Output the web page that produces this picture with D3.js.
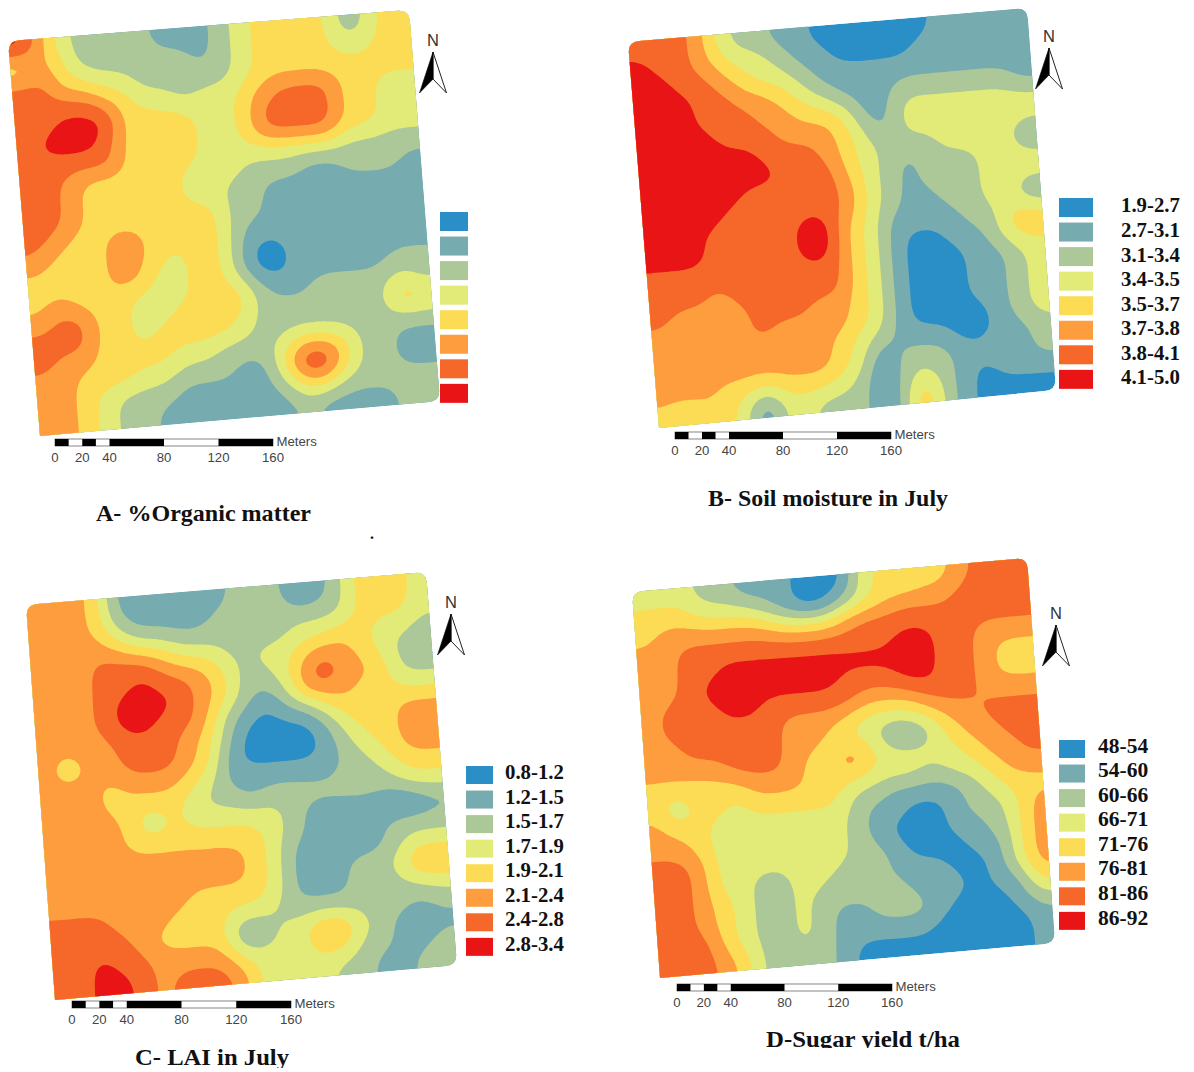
<!DOCTYPE html>
<html><head><meta charset="utf-8">
<script src="https://cdn.jsdelivr.net/npm/d3@7"></script>
<style>html,body{margin:0;padding:0;background:#fff}svg{display:block}</style>
</head><body><svg id="c" width="1194" height="1072"></svg>
<script>
const classColors=["#2b8fc7","#76abb0","#adc898","#e2ea78","#fcdc55","#fd9d3d","#f6682a","#e81416"];
const scaleTicks=[0,20,40,80,120,160];
const scaleSegments=[[0,10],[20,30],[40,80],[120,160]];
const labelsA=["","","","","","","",""];
const labelsB=["1.9-2.7","2.7-3.1","3.1-3.4","3.4-3.5","3.5-3.7","3.7-3.8","3.8-4.1","4.1-5.0"];
const labelsC=["0.8-1.2","1.2-1.5","1.5-1.7","1.7-1.9","1.9-2.1","2.1-2.4","2.4-2.8","2.8-3.4"];
const labelsD=["48-54","54-60","60-66","66-71","71-76","76-81","81-86","86-92"];
const gridA=[
"75322221112344442244","35422222212344443344","66443322222344444444","66665433233456664433",
"66777444433466664433","67776444433466664433","66666444433333332222","66544444333222112221",
"66544444332211111111","66544444442211111111","65445544442111111111","54445543442001111111",
"44445533442001111122","45444333444211222232","56644334444222222254","66644344443222222222",
"65544443322235542211","55444332221147742211","55432221111124422222","55432211111112111122"];
const gridB=[
"66653221100000011111","76654332110000111111","77665433211111111111","77766554321112222221",
"77766655443113333333","77776665554213333333","77777766654322233331","77777776664321222333",
"77777666665321222333","77776666665321122331","77766666864311112244","77766666864310011244",
"66666666664310001123","66656666664310001123","65555666554310001123","55555655554310000123",
"55555555543211100112","55555555543022211112","55544344432023210111","43443033222025210000"];
const gridC=[
"55541111112220124443","55542111122222224443","55554332222223344332","55566654432334554322",
"55566766542235755422","55567776542125554433","55567766521011344455","55556665420000134455",
"53556665410000123455","55545554311111122344","55544443221222222233","55554243333321111001",
"55554444444321111222","55555555554311111233","55555555554311122355","55555554444311122233",
"66655544433222222212","66665444411335532111","66766555533334422112","66776566653333221122"];
const gridD=[
"33322111000343445666","44433321002345556666","45555554445666666666","55666666666667766555",
"55667777777777766544","55677777776667766544","56667766666555666555","56666665554333455666",
"55666665543311245566","55556665446433334556","44444555444333233455","42443444442211112344",
"54433333332110012235","55433333332100011235","66533333332210001135","66533223322211100135",
"66543223222221110114","66543223211222100012","66643223211111000001","66654222210000000001"];

const panels=[
 {id:"A",grid:gridA,tl:[8,41],tr:[409,10],br:[440,401],bl:[40,436],
  leg:{x:440,w:28,y:212,h:19,step:24.55,tx:0,ty:0,fs:20,labels:labelsA},
  bar:{x0:55,x1:273,y:439},north:[433,52],title:{t:"A- %Organic matter",x:203.5,y:521,w:215}},
 {id:"B",grid:gridB,tl:[628,42],tr:[1027,8],br:[1056,390],bl:[659,428],
  leg:{x:1059,w:34,y:198,h:19,step:24.55,tx:1121,ty:-2.5,fs:20.8,labels:labelsB},
  bar:{x0:675,x1:891,y:432},north:[1049,48],title:{t:"B- Soil moisture in July",x:828,y:506,w:240}},
 {id:"C",grid:gridC,tl:[26,605],tr:[426,572],br:[457,965],bl:[55,1000],
  leg:{x:466,w:27,y:766,h:18,step:24.55,tx:505,ty:-3.5,fs:20.8,labels:labelsC},
  bar:{x0:72,x1:291,y:1001},north:[451,614],title:{t:"C- LAI in July",x:212,y:1065,w:154,clip:1068}},
 {id:"D",grid:gridD,tl:[632,592],tr:[1027,558],br:[1055,943],bl:[660,978],
  leg:{x:1059,w:26,y:740,h:18,step:24.55,tx:1098,ty:-4,fs:21.5,labels:labelsD},
  bar:{x0:677,x1:892,y:984},north:[1056,625],title:{t:"D-Sugar yield t/ha",x:863,y:1047,w:194,clip:1048}}
];

const svg=d3.select("#c");
const defs=svg.append("defs");
const serif="'Liberation Serif','Times New Roman',serif";
const sans="'Liberation Sans',Arial,sans-serif";
const UP=6, BLUR=3;

function lerp(a,b,t){return [a[0]+(b[0]-a[0])*t,a[1]+(b[1]-a[1])*t];}
function roundedQuad(p){
  const r=0.028,cs=[p.tl,p.tr,p.br,p.bl];
  const radii=[r,r,r,0];let d="";
  cs.forEach((c,i)=>{
    const prev=cs[(i+3)%4],next=cs[(i+1)%4];
    const a=lerp(c,prev,radii[i]),b=lerp(c,next,radii[i]);
    d+=(i?"L":"M")+a[0]+","+a[1]+"Q"+c[0]+","+c[1]+" "+b[0]+","+b[1];
  });
  return d+"Z";
}

panels.forEach(p=>{
  const rows=p.grid.length,cols=p.grid[0].length;
  const W=cols*UP,H=rows*UP;
  const values=new Float64Array(W*H);
  for(let y=0;y<H;y++)for(let x=0;x<W;x++)
    values[y*W+x]=+p.grid[Math.floor(y/UP)][Math.floor(x/UP)]+0.5;
  d3.blur2({data:values,width:W,height:H},BLUR);
  const contours=d3.contours().size([W,H]).thresholds(d3.range(1,8))(Array.from(values));
  const xs=d3.scaleLinear().domain([0,W]).range([0,1]);
  const ys=d3.scaleLinear().domain([0,H]).range([0,1]);
  const toPx=([x,y])=>{
    const gx=x<=0?-6:x>=W?W+6:x, gy=y<=0?-6:y>=H?H+6:y;
    const u=xs(gx),v=ys(gy);
    return lerp(lerp(p.tl,p.tr,u),lerp(p.bl,p.br,u),v);
  };
  const line=d3.line().curve(d3.curveCatmullRomClosed.alpha(0.5));
  defs.append("clipPath").attr("id","clip"+p.id).append("path").attr("d",roundedQuad(p));
  const g=svg.append("g").attr("clip-path","url(#clip"+p.id+")");
  g.append("path").attr("d",roundedQuad(p)).attr("fill",classColors[0]);
  g.selectAll("path.c").data(contours).join("path").attr("class","c")
    .attr("fill",d=>classColors[d.value]).attr("fill-rule","evenodd")
    .attr("d",d=>d.coordinates.map(poly=>poly.map(ring=>line(ring.slice(0,-1).map(toPx))).join("")).join(""));

  const L=p.leg;
  svg.append("g").selectAll("rect").data(classColors).join("rect")
    .attr("x",L.x).attr("y",(d,i)=>L.y+i*L.step).attr("width",L.w).attr("height",L.h).attr("fill",d=>d);
  svg.append("g").selectAll("text").data(L.labels.filter(s=>s)).join("text")
    .attr("x",L.tx).attr("y",(d,i)=>L.y+i*L.step+L.h/2+L.ty).attr("dy","0.36em")
    .attr("font-family",serif).attr("font-weight","bold").attr("font-size",L.fs).attr("fill","#111").text(d=>d);

  const B=p.bar,sx=d3.scaleLinear().domain([0,160]).range([B.x0,B.x1]);
  const sb=svg.append("g");
  sb.append("rect").attr("x",B.x0).attr("y",B.y).attr("width",B.x1-B.x0).attr("height",7)
    .attr("fill","#fff").attr("stroke","#666").attr("stroke-width",0.8);
  sb.selectAll("rect.s").data(scaleSegments).join("rect").attr("class","s")
    .attr("x",d=>sx(d[0])).attr("y",B.y).attr("width",d=>sx(d[1])-sx(d[0])).attr("height",7).attr("fill","#000");
  sb.selectAll("text").data(scaleTicks).join("text").attr("x",d=>sx(d)).attr("y",B.y+22.5)
    .attr("text-anchor","middle").attr("font-family",sans).attr("font-size",13.2).attr("fill","#444").text(d=>d);
  sb.append("text").attr("x",B.x1+3.5).attr("y",B.y+6.5).attr("font-family",sans).attr("font-size",13.2).attr("fill","#444").text("Meters");

  const n=svg.append("g").attr("transform","translate("+p.north[0]+","+p.north[1]+")");
  n.append("text").attr("x",0).attr("y",-6).attr("text-anchor","middle").attr("font-family",sans).attr("font-size",16.5).attr("fill","#333").text("N");
  n.append("path").attr("d","M0,0L13.5,41L0,27Z").attr("fill","#fff").attr("stroke","#222").attr("stroke-width",1);
  n.append("path").attr("d","M0,0L-13.5,41L0,27Z").attr("fill","#000").attr("stroke","#000").attr("stroke-width",0.6);

  const T=p.title;
  let tg=svg.append("g");
  if(T.clip){
    defs.append("clipPath").attr("id","tclip"+p.id).append("rect").attr("x",0).attr("y",0).attr("width",1194).attr("height",T.clip);
    tg.attr("clip-path","url(#tclip"+p.id+")");
  }
  tg.append("text").attr("x",T.x).attr("y",T.y).attr("text-anchor","middle").attr("font-family",serif)
    .attr("font-weight","bold").attr("font-size",23.5).attr("fill","#111")
    .attr("textLength",T.w).attr("lengthAdjust","spacingAndGlyphs").text(T.t);
});
svg.append("text").attr("x",370).attr("y",539).attr("font-family",serif).attr("font-weight","bold").attr("font-size",16).attr("fill","#111").text(".");
</script></body></html>
